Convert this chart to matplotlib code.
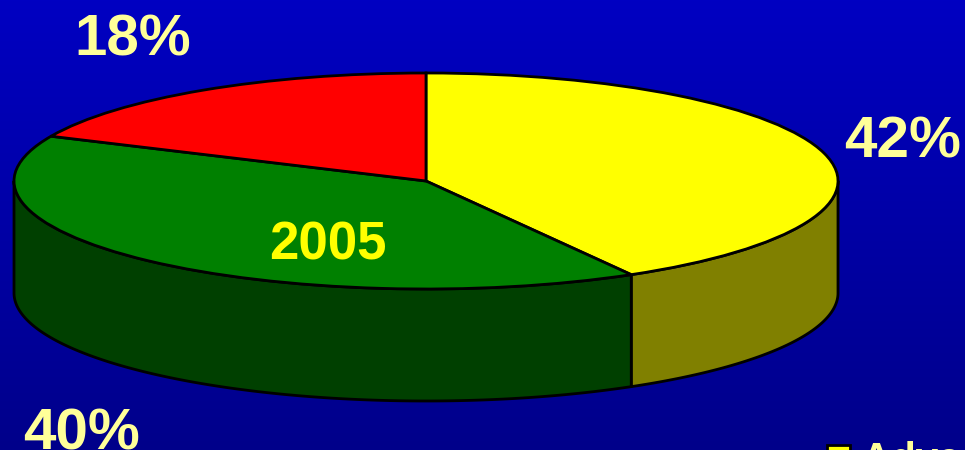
import numpy as np
import matplotlib
matplotlib.use("Agg")
import matplotlib.pyplot as plt
from matplotlib.patches import Rectangle

plt.rcParams["font.family"] = ["Liberation Sans", "DejaVu Sans"]

# --- Donnees ---
labels = ["Adva", "", ""]
values = [41.7, 40.1, 18.2]
value_labels = ["42%", "40%", "18%"]
top_colors = ["#ffff00", "#008000", "#ff0000"]
side_colors = ["#808000", "#004000", "#800000"]
year = "2005"

# --- Geometrie en pixels ---
W, H = 965, 450
cx, cy, rx, ry = 426, 181, 412, 108
depth = 112 / ry

fig = plt.figure(figsize=(W / 100, H / 100), dpi=100)

# fond degrade
bg = fig.add_axes([0, 0, 1, 1])
grad = np.linspace(0, 1, 256).reshape(-1, 1)
bg.imshow(grad, aspect="auto", cmap=matplotlib.colors.LinearSegmentedColormap.from_list(
    "fond", ["#0000c2", "#00008a"]))
bg.axis("off")

ax = fig.add_axes([0, 0, 1, 1])
ax.pie(values, colors=top_colors, startangle=90, counterclock=False, radius=1,
       wedgeprops=dict(edgecolor="black", linewidth=2, zorder=3))
ax.set_aspect("auto")
ax.set_xlim(-cx / rx, (W - cx) / rx)
ax.set_ylim((cy - H) / ry, cy / ry)
ax.patch.set_visible(False)

# flanc du cylindre, a partir des parts cumulees
bornes = np.cumsum([0] + values) / sum(values) * 2 * np.pi
for i in range(len(values)):
    a0 = max(bornes[i], np.pi / 2)
    a1 = min(bornes[i + 1], 3 * np.pi / 2)
    if a1 <= a0:
        continue
    t = np.linspace(a0, a1, 200)
    xs = np.sin(t)
    ys = np.cos(t)
    ax.fill(np.r_[xs, xs[::-1]], np.r_[ys, ys[::-1] - depth],
            facecolor=side_colors[i], edgecolor="black", lw=2, zorder=2,
            joinstyle="round")


def px_text(x, y, s, **kw):
    fig.text(x / W, 1 - y / H, s, va="baseline", fontweight="bold", **kw)


px_text(844, 157, value_labels[0], color="#ffff99", fontsize=42)
px_text(23, 449, value_labels[1], color="#ffff99", fontsize=42)
px_text(74, 55, value_labels[2], color="#ffff99", fontsize=42)
px_text(269, 259, year, color="#ffff00", fontsize=38)

# legende coupee par le bord
fig.add_artist(Rectangle((827 / W, 1 - 462 / H), 23 / W, 17 / H, transform=fig.transFigure,
                         facecolor=top_colors[0], edgecolor="black", lw=2))
px_text(862, 471, labels[0], color="#ffff99", fontsize=29)

fig.savefig("out.png", dpi=100)
